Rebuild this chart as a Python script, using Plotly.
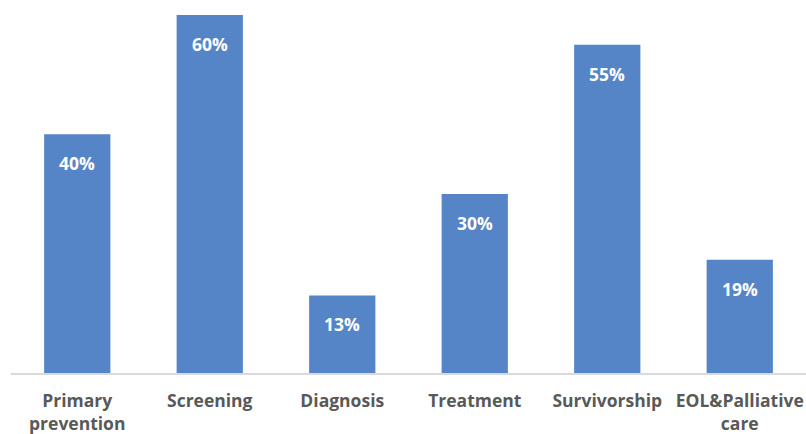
import plotly.graph_objects as go

categories = ["Primary<br>prevention", "Screening", "Diagnosis", "Treatment", "Survivorship", "EOL&Palliative<br>care"]
values = [40, 60, 13, 30, 55, 19]
labels = ["40%", "60%", "13%", "30%", "55%", "19%"]

fig = go.Figure()
fig.add_trace(go.Bar(
    x=categories, y=values,
    marker=dict(color="#5585c6", line=dict(width=0)),
    width=0.5,
    hoverinfo="skip",
))

for c, v, t in zip(categories, values, labels):
    fig.add_annotation(x=c, y=v, text="<b>%s</b>" % t, showarrow=False,
                       yanchor="middle", yshift=-29,
                       font=dict(family="Open Sans", size=17.5, color="white"))

fig.update_layout(
    width=806, height=434,
    margin=dict(l=11, r=0, t=15, b=61, autoexpand=False),
    paper_bgcolor="white", plot_bgcolor="white",
    showlegend=False,
    bargap=0.5,
    xaxis=dict(showline=True, linecolor="#d9d9d9", linewidth=1.5,
               ticks="", showgrid=False, ticklabelstandoff=11,
               automargin=False,
               tickfont=dict(family="Open Sans", size=17.5, color="#595959"),
               tickvals=categories,
               ticktext=["<b>%s</b>" % c for c in categories]),
    yaxis=dict(range=[0, 60], visible=False, showgrid=False, automargin=False),
)

fig.write_html("out.html", config={"displayModeBar": False},
               post_script="document.body.style.margin='0';document.body.style.overflow='hidden';")
